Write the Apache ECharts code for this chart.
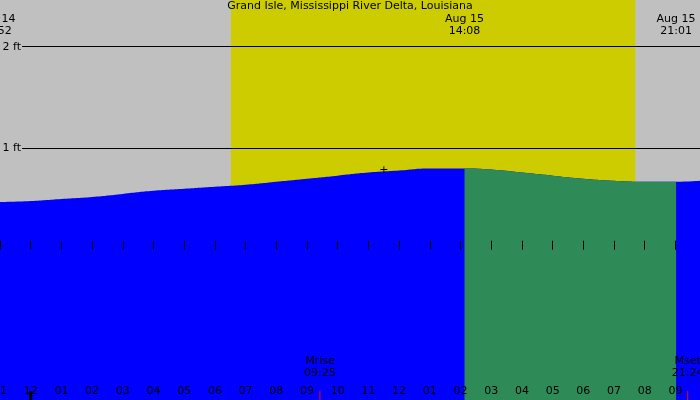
<!DOCTYPE html>
<html><head><meta charset="utf-8">
<script src="https://cdn.jsdelivr.net/npm/echarts@6/dist/echarts.min.js"></script>
<style>html,body{margin:0;padding:0;background:#c0c0c0}#c{width:700px;height:400px}</style>
</head><body><div id="c"></div>
<script>
const title = "Grand Isle, Mississippi River Delta, Louisiana";
// hours relative to Aug 15 00:00
const tideHours = [-1, 0, 1, 2, 3, 4, 5, 6, 7, 8, 9, 10, 11, 12, 13, 14.13, 15, 16, 17, 18, 19, 20, 21.02, 21.8];
const tideFeet  = [0.47,0.48,0.50,0.52,0.55,0.58,0.60,0.62,0.64,0.67,0.70,0.73,0.76,0.78,0.80,0.80,0.79,0.76,0.73,0.70,0.68,0.67,0.67,0.68];
const sunrise = 6.52, sunset = 19.7;
const greenStart = 14.13, greenEnd = 21.02;
const events = [{h:-1.13, t:["Aug 14","22:52"]},{h:14.13,t:["Aug 15","14:08"]},{h:21.02,t:["Aug 15","21:01"]}];
const moon = [{h:9.42, t:["Mrise","09:25"]},{h:21.4, t:["Mset","21:24"]}];
const noonHour = 11.5;
const levels = [0,1,2];

const all = tideHours.map((h,i)=>[h,tideFeet[i]]);
const green = all.filter(p=>p[0]>=greenStart && p[0]<=greenEnd);
const hourLabel = v => { let h=((Math.round(v)%12)+12)%12; if(h===0) h=12; return String(h).padStart(2,'0'); };

const chart = echarts.init(document.getElementById('c'));
const font = {fontFamily:'DejaVu Sans', fontSize:11, color:'#000'};
chart.setOption({
  animation:false,
  grid:{left:0,right:0,top:0,bottom:0,containLabel:false,outerBoundsMode:'none'},
  xAxis:{type:'value',min:-1,max:21.8,interval:1,z:20,
    axisLine:{show:false},splitLine:{show:false},
    axisTick:{inside:true,length:9,lineStyle:{color:'#000'}},
    axisLabel:{inside:true,margin:3,showMinLabel:true,showMaxLabel:false,hideOverlap:false,formatter:hourLabel,...font}},
  yAxis:{type:'value',min:-1.48,max:2.46,show:false},
  series:[
    {type:'line',data:all,smooth:true,symbol:'none',lineStyle:{width:0},
     areaStyle:{color:'#0000ff',origin:'start',opacity:1},
     markArea:{silent:true,data:[
       [{xAxis:-1,itemStyle:{color:'#c0c0c0'}},{xAxis:sunrise}],
       [{xAxis:sunrise,itemStyle:{color:'#cccc00'}},{xAxis:sunset}],
       [{xAxis:sunset,itemStyle:{color:'#c0c0c0'}},{xAxis:21.8}]]},
     markLine:{silent:true,symbol:'none',data:levels.map(l=>[
       {coord:[-0.28,l],lineStyle:{color:'#000',width:1,type:'solid',opacity:l===0?0:1},
        label:{show:true,position:'start',formatter:l+' ft',distance:1,...font}},
       {coord:[21.8,l]}])}},
    {type:'line',data:green,smooth:true,symbol:'none',lineStyle:{width:0},
     areaStyle:{color:'#2e8b57',origin:'start',opacity:1},z:3}
  ]
});
const X = h => chart.convertToPixel({xAxisIndex:0},h);
const Y = v => chart.convertToPixel({yAxisIndex:0},v);
const tf = '11px DejaVu Sans';
const g = [{type:'text',z:100,x:350,y:1,style:{text:title,font:tf,fill:'#000',align:'center'}}];
events.forEach(e=>g.push({type:'text',z:100,x:X(e.h),y:13,style:{text:e.t.join('\n'),font:tf,fill:'#000',align:'center',lineHeight:12}}));
moon.forEach(m=>{
  g.push({type:'text',z:100,x:X(m.h),y:355,style:{text:m.t.join('\n'),font:tf,fill:'#000',align:'center',lineHeight:12}});
  g.push({type:'line',z:100,shape:{x1:X(m.h),y1:391,x2:X(m.h),y2:400},style:{stroke:'#ff0000',lineWidth:1}});
});
g.push({type:'line',z:100,shape:{x1:X(0),y1:391,x2:X(0),y2:400},style:{stroke:'#000',lineWidth:3}});
g.push({type:'text',z:100,x:X(noonHour),y:Y(0.77)-7,style:{text:'+',font:tf,fill:'#000',align:'center'}});
chart.setOption({graphic:g});
</script></body></html>
